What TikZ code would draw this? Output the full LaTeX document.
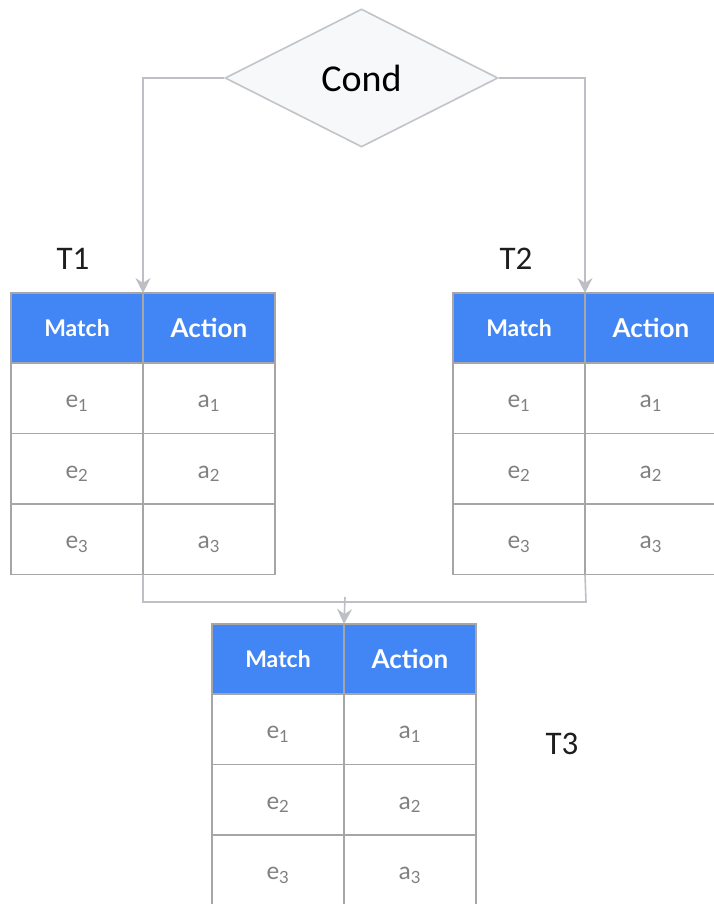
\documentclass[tikz,border=0pt]{standalone}
\usepackage{fontspec}
\setmainfont{Carlito}
\newfontfamily\latofont{Lato}
\usetikzlibrary{shapes.geometric,arrows.meta}
\definecolor{hdrblue}{HTML}{4286F5}
\definecolor{cellline}{HTML}{A6A6A6}
\definecolor{connline}{HTML}{BDBFC4}
\definecolor{condfill}{HTML}{F7F8FA}
\definecolor{condline}{HTML}{C3C4C8}
\definecolor{celltext}{HTML}{808080}
\definecolor{labeltext}{HTML}{1E1E1E}
\tikzset{
  cellbase/.style={rectangle, draw=cellline, line width=1.6pt, inner sep=0pt, outer sep=0pt,
    minimum width=132pt, anchor=north west},
  hdrcell/.style={cellbase, fill=hdrblue, text=white, minimum height=70pt},
  bodycell/.style={cellbase, fill=white, text=celltext, minimum height=70.5pt,
    text height=19pt, text depth=0pt,
    font=\latofont\fontsize{24}{28}\selectfont},
  matchfont/.style={font=\latofont\bfseries\fontsize{23}{26}\selectfont},
  actionfont/.style={font=\latofont\bfseries\fontsize{26}{30}\selectfont},
  conn/.style={draw=connline, line width=1.6pt, -{Stealth[length=15pt,width=15pt,inset=5pt]}},
  plainconn/.style={draw=connline, line width=1.6pt},
  tlabel/.style={text=labeltext, font=\fontsize{33}{38}\selectfont, inner sep=0pt},
}
\newcommand{\cellsub}[2]{#1\textsubscript{#2}}
\newcommand{\flowtable}[3]{%
  \node[hdrcell, matchfont] (#1m) at (#2,#3) {Match};
  \node[hdrcell, actionfont] (#1a) at (#1m.north east) {Action};
  \node[bodycell] (#1e1) at (#1m.south west) {\cellsub{e}{1}};
  \node[bodycell] (#1a1) at (#1e1.north east) {\cellsub{a}{1}};
  \node[bodycell] (#1e2) at (#1e1.south west) {\cellsub{e}{2}};
  \node[bodycell] (#1a2) at (#1e2.north east) {\cellsub{a}{2}};
  \node[bodycell] (#1e3) at (#1e2.south west) {\cellsub{e}{3}};
  \node[bodycell] (#1a3) at (#1e3.north east) {\cellsub{a}{3}};
}
\begin{document}
\begin{tikzpicture}[x=1pt,y=-1pt]
  \useasboundingbox (0,0) rectangle (713,904);
  \node[diamond, draw=condline, fill=condfill, line width=1.6pt, inner sep=0pt,
        minimum width=273pt, minimum height=138pt, aspect=1.98,
        font=\fontsize{38}{44}\selectfont] (cond) at (361.5,78) {Cond};
  \flowtable{t1}{11}{293}
  \flowtable{t2}{453}{293}
  \flowtable{t3}{212}{624}
  \node[tlabel] (l1) at (73,259) {T1};
  \node[tlabel] (l2) at (516,259) {T2};
  \node[tlabel] (l3) at (562,744) {T3};
  \draw[conn] (cond.west) -| (t1m.north east);
  \draw[conn] (cond.east) -| (t2m.north east);
  \coordinate (jl) at (143,602);
  \coordinate (jr) at (586,602);
  \coordinate (ja) at (345,597);
  \draw[plainconn] (t1e3.south east) -- (jl) -- (jr) -- (t2e3.south east);
  \draw[conn] (ja) -- (t3m.north east);
\end{tikzpicture}
\end{document}
